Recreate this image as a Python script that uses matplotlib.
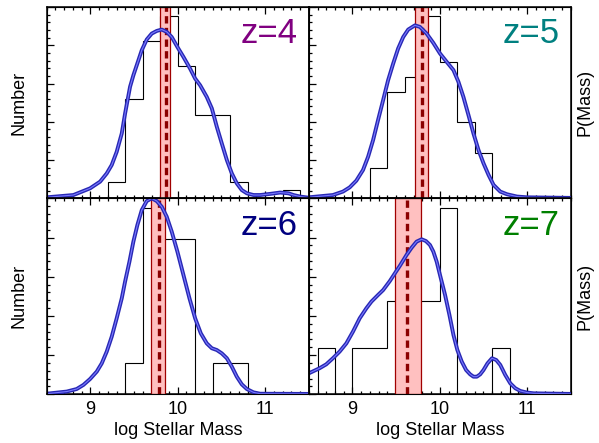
import numpy as np
import matplotlib
matplotlib.use('Agg')
import matplotlib.pyplot as plt
from matplotlib.ticker import MultipleLocator, AutoMinorLocator

plt.rcParams['font.family'] = ['Liberation Sans', 'DejaVu Sans']

# ---- histogram data (counts per 0.2 dex bin) ----
edges_z4 = [9.2, 9.4, 9.6, 9.8, 10.0, 10.2, 10.4, 10.6, 10.8, 11.0, 11.2, 11.4]
counts_z4 = [2, 12, 19, 22, 16, 10, 10, 2, 0, 0, 1]
edges_z5 = [9.2, 9.4, 9.6, 9.8, 10.0, 10.2, 10.4, 10.6]
counts_z5 = [2, 7, 8, 12, 9, 5, 3]
edges_z6 = [9.4, 9.6, 9.8, 10.0, 10.2, 10.4, 10.6, 10.8]
counts_z6 = [1, 6, 5, 5, 0, 1, 1]
edges_z7 = [8.6, 8.8, 9.0, 9.2, 9.4, 9.6, 9.8, 10.0, 10.2, 10.4, 10.6, 10.8]
counts_z7 = [1, 0, 1, 1, 2, 2, 2, 4, 0, 0, 1]

# ---- P(Mass) curves (fraction of panel height) ----
px_z4 = [8.5, 8.805, 8.996, 9.111, 9.187, 9.244, 9.301, 9.359, 9.397, 9.454, 9.492,
         9.55, 9.588, 9.645, 9.702, 9.76, 9.817, 9.874, 9.931, 9.996, 10.065, 10.141,
         10.199, 10.256, 10.332, 10.39, 10.447, 10.504, 10.562, 10.619, 10.676, 10.733,
         10.791, 10.867, 10.943, 11.058, 11.172, 11.268, 11.325, 11.401, 11.5]
py_z4 = [0.005, 0.017, 0.052, 0.087, 0.130, 0.174, 0.243, 0.339, 0.443, 0.583, 0.643,
         0.722, 0.774, 0.830, 0.861, 0.875, 0.882, 0.870, 0.843, 0.791, 0.739, 0.678,
         0.626, 0.591, 0.530, 0.470, 0.374, 0.287, 0.200, 0.130, 0.078, 0.043,
         0.026, 0.017, 0.017, 0.023, 0.030, 0.026, 0.017, 0.009, 0.003]
px_z5 = [8.5, 8.776, 8.891, 8.968, 9.044, 9.121, 9.179, 9.236, 9.293, 9.351, 9.408,
         9.466, 9.523, 9.581, 9.638, 9.715, 9.772, 9.849, 9.926, 10.002, 10.079, 10.156,
         10.213, 10.27, 10.328, 10.385, 10.443, 10.5, 10.558, 10.615, 10.692, 10.769,
         10.884, 10.999, 11.5]
py_z5 = [0.005, 0.017, 0.035, 0.057, 0.092, 0.148, 0.217, 0.304, 0.409, 0.513, 0.617,
         0.704, 0.783, 0.843, 0.882, 0.904, 0.896, 0.861, 0.812, 0.757, 0.713, 0.670,
         0.609, 0.530, 0.435, 0.339, 0.252, 0.183, 0.122, 0.070, 0.035, 0.021,
         0.009, 0.005, 0.002]
px_z6 = [8.5, 8.729, 8.843, 8.92, 8.996, 9.073, 9.13, 9.187, 9.244, 9.301, 9.359,
         9.397, 9.447, 9.492, 9.538, 9.588, 9.645, 9.702, 9.76, 9.817, 9.874, 9.931,
         9.996, 10.065, 10.134, 10.199, 10.264, 10.332, 10.39, 10.447, 10.504, 10.562,
         10.619, 10.676, 10.733, 10.791, 10.867, 10.943, 11.5]
py_z6 = [0.003, 0.014, 0.027, 0.048, 0.078, 0.116, 0.158, 0.218, 0.294, 0.388, 0.490,
         0.575, 0.677, 0.779, 0.864, 0.940, 0.986, 1.0, 0.986, 0.957, 0.906, 0.830,
         0.728, 0.609, 0.490, 0.388, 0.311, 0.260, 0.235, 0.226, 0.209, 0.184,
         0.141, 0.090, 0.051, 0.027, 0.010, 0.003, 0.002]
px_z7 = [8.5, 8.623, 8.7, 8.776, 8.853, 8.93, 9.006, 9.083, 9.159, 9.217, 9.293,
         9.351, 9.428, 9.485, 9.543, 9.619, 9.677, 9.734, 9.792, 9.841, 9.887, 9.926,
         9.964, 10.002, 10.06, 10.11, 10.156, 10.201, 10.251, 10.301, 10.347, 10.385,
         10.424, 10.462, 10.5, 10.546, 10.597, 10.646, 10.692, 10.749, 10.807, 10.864,
         10.922, 10.998, 11.075, 11.5]
py_z7 = [0.107, 0.133, 0.153, 0.184, 0.218, 0.260, 0.320, 0.388, 0.439, 0.473, 0.507,
         0.532, 0.578, 0.617, 0.656, 0.711, 0.748, 0.779, 0.791, 0.782, 0.762, 0.728,
         0.677, 0.609, 0.507, 0.405, 0.303, 0.226, 0.167, 0.124, 0.102, 0.090,
         0.090, 0.102, 0.124, 0.158, 0.184, 0.175, 0.150, 0.099, 0.056, 0.031,
         0.017, 0.009, 0.005, 0.002]

# ---- median mass and its range (shaded band) ----
band_z4 = (9.80, 9.91)
med_z4 = 9.86
band_z5 = (9.72, 9.87)
med_z5 = 9.795
band_z6 = (9.695, 9.855)
med_z6 = 9.78
band_z7 = (9.49, 9.78)
med_z7 = 9.63

labels = ['z=4', 'z=5', 'z=6', 'z=7']
label_colors = ['#800080', '#008080', '#000080', '#008000']

panels = [
    (edges_z4, counts_z4, px_z4, py_z4, band_z4, med_z4),
    (edges_z5, counts_z5, px_z5, py_z5, band_z5, med_z5),
    (edges_z6, counts_z6, px_z6, py_z6, band_z6, med_z6),
    (edges_z7, counts_z7, px_z7, py_z7, band_z7, med_z7),
]

fig = plt.figure(figsize=(5.99, 4.43), dpi=100)
positions = [
    [0.078, 0.5524, 0.4375, 0.4318],
    [0.5155, 0.5524, 0.4375, 0.4318],
    [0.078, 0.1099, 0.4375, 0.4424],
    [0.5155, 0.1099, 0.4375, 0.4424],
]

for i, (edges, counts, cx, cy, band, med) in enumerate(panels):
    ax = fig.add_axes(positions[i])
    top = max(counts) * 1.05
    ax.stairs(counts, edges, baseline=0, color='black', lw=0.8)
    ax.axvspan(band[0], band[1], facecolor='#ffc0c0', edgecolor='#a00000', lw=0.9, zorder=3)
    ax.axvline(med, color='#8b0000', lw=2.4, dashes=(2.2, 1.3), zorder=4)
    ax.set_xlim(8.5, 11.5)
    ax.set_ylim(0, top)
    ax.set_yticks(np.linspace(0, top, 6))
    ax.yaxis.set_minor_locator(AutoMinorLocator(5))
    ax.xaxis.set_major_locator(MultipleLocator(1))
    ax.xaxis.set_minor_locator(MultipleLocator(0.1))
    ax.tick_params(which='both', direction='in', top=True, right=True, width=0.9,
                   labelleft=False, labelsize=13, pad=5)
    ax.tick_params(which='major', length=5)
    ax.tick_params(which='minor', length=2.5)
    for s in ax.spines.values():
        s.set_linewidth(1.1)

    ax2 = ax.twinx()
    ax2.set_ylim(0, 1)
    ax2.set_yticks([])
    ax2.plot(cx, cy, color='#2828b4', lw=2.8, solid_joinstyle='round')
    ax2.plot(cx, cy, color='#7a7aff', lw=0.8)
    ax2.text(0.958, 0.813, labels[i], transform=ax2.transAxes, ha='right', va='baseline',
             fontsize=25, color=label_colors[i])

    if i < 2:
        ax.tick_params(labelbottom=False)
    else:
        ax.set_xlabel('log Stellar Mass', fontsize=13, labelpad=3)
    if i % 2 == 0:
        ax.set_ylabel('Number', fontsize=13, labelpad=14)
    else:
        ax2.set_ylabel('P(Mass)', fontsize=13, labelpad=4)

fig.savefig('out.png', dpi=100)
